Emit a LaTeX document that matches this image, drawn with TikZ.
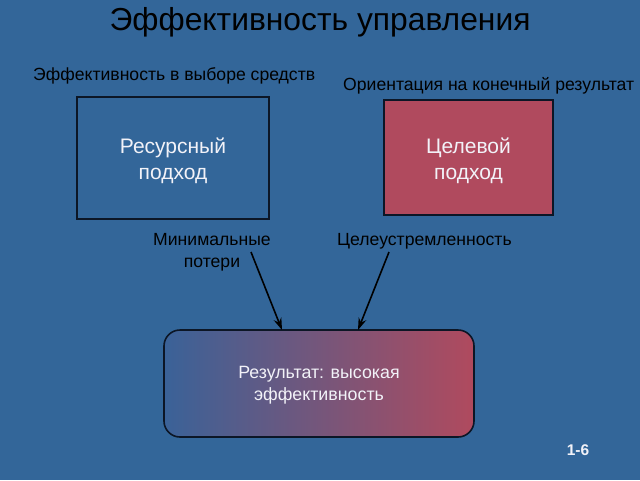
\documentclass[tikz,border=0pt]{standalone}
\usepackage{fontspec}
\setmainfont{Liberation Sans}
\usetikzlibrary{arrows.meta}
\definecolor{bg}{HTML}{336699}
\definecolor{redbox}{HTML}{B04A5E}
\definecolor{bluegrad}{HTML}{3A6298}
\definecolor{edge}{HTML}{0C1626}
\definecolor{boxtext}{HTML}{F2F2F8}
\tikzset{
  label/.style={font=\fontsize{17.6}{22}\selectfont, text=black, inner sep=0pt, align=center},
  boxtxt/.style={font=\fontsize{21}{26}\selectfont, text=boxtext, align=center},
  plainbox/.style={draw=edge, line width=1.6pt, minimum width=192pt, minimum height=122pt},
  conn/.style={draw=black, line width=1.6pt, -{Stealth[length=12pt,width=8pt]}}
}
\begin{document}
\begin{tikzpicture}[x=1pt,y=-1pt]
\fill[bg] (0,0) rectangle (640,480);
\useasboundingbox (0,0) rectangle (640,480);
\node[font=\fontsize{31.8}{36}\selectfont, text=black] (title) at (320,22) {Эффективность управления};
\node[label, anchor=west] (lefttop) at (33,76) {Эффективность в выборе средств};
\node[label, anchor=west] (righttop) at (343,86) {Ориентация на конечный результат};
\node[plainbox, fill=bg] (res) at (173,158) {};
\node[boxtxt] (restxt) at (173,161) {Ресурсный\\подход};
\node[plainbox, fill=redbox, minimum width=169pt, minimum height=115pt] (goal) at (468.5,157.5) {};
\node[boxtxt] (goaltxt) at (468.5,161) {Целевой\\подход};
\node[label] (minloss) at (212,252) {Минимальные\\потери};
\node[label, anchor=west] (aim) at (337,241) {Целеустремленность};
\node[draw=edge, line width=1.6pt, rounded corners=16pt, left color=bluegrad, right color=redbox,
      minimum width=310pt, minimum height=107pt] (result) at (319,383.5) {};
\node[font=\fontsize{17.8}{22}\selectfont, text=boxtext, align=center] (restext) at (319,385.5) {Результат: высокая\\эффективность};
\coordinate (s1) at (251,252);
\coordinate (s2) at (389,252);
\coordinate (e1) at (282,330);
\coordinate (e2) at (358,330);
\draw[conn] (s1) -- (e1);
\draw[conn] (s2) -- (e2);
\node[font=\bfseries\fontsize{15.5}{18}\selectfont, text=boxtext] (page) at (578,450) {1-6};
\end{tikzpicture}
\end{document}
